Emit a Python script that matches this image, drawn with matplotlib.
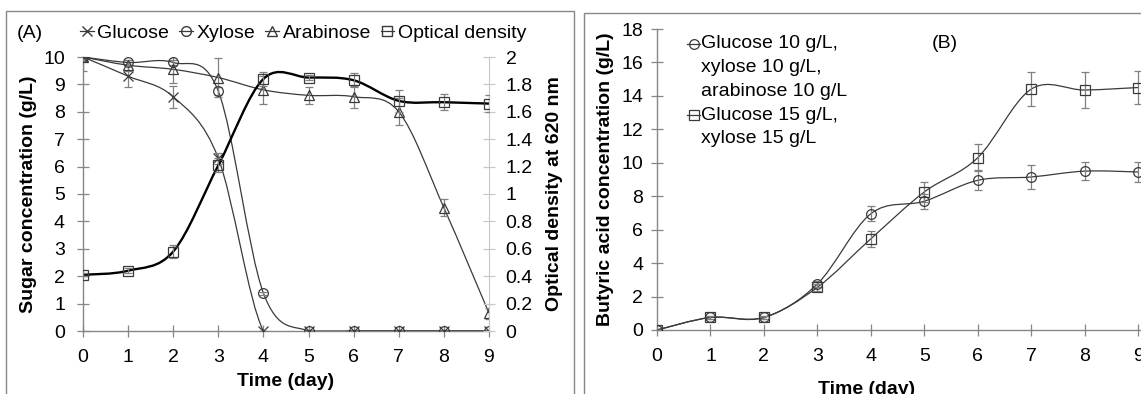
import numpy as np
import matplotlib
matplotlib.use("Agg")
import matplotlib.pyplot as plt
from matplotlib.path import Path
from matplotlib.patches import PathPatch, Rectangle
from matplotlib.lines import Line2D

plt.rcParams['font.family'] = ['Liberation Sans', 'DejaVu Sans']
plt.rcParams['font.size'] = 14

# ---- data ----
days = np.arange(10)

# panel A: sugars (g/L) and optical density
glucose = [10, 9.3, 8.55, 6.3, 0, 0, 0, 0, 0, 0]
glucose_err = [0.5, 0.4, 0.4, 0.2, 0, 0, 0, 0, 0, 0]
xylose = [10, 9.8, 9.8, 8.75, 1.38, 0, 0, 0, 0, 0]
xylose_err = [0.1, 0.1, 0.1, 0.15, 0.05, 0, 0, 0, 0, 0]
arabinose = [10, 9.7, 9.55, 9.25, 8.8, 8.6, 8.55, 8.0, 4.5, 0.65]
arabinose_err = [0.1, 0.2, 0.5, 0.7, 0.5, 0.3, 0.4, 0.5, 0.3, 0.2]
od = [0.41, 0.44, 0.58, 1.21, 1.84, 1.85, 1.83, 1.68, 1.67, 1.66]
od_err = [0.01, 0.02, 0.05, 0.05, 0.05, 0.02, 0.05, 0.08, 0.06, 0.06]

# panel B: butyric acid (g/L)
but_mix3 = [0, 0.75, 0.75, 2.75, 6.95, 7.7, 8.95, 9.15, 9.5, 9.45]
but_mix3_err = [0, 0.1, 0.1, 0.2, 0.45, 0.45, 0.6, 0.7, 0.55, 0.6]
but_mix2 = [0, 0.75, 0.75, 2.55, 5.45, 8.25, 10.3, 14.4, 14.35, 14.5]
but_mix2_err = [0, 0.1, 0.1, 0.2, 0.5, 0.6, 0.8, 1.0, 1.05, 1.0]

W, H = 1141, 394
LINE = '#3a3a3a'
ERR = '#808080'
AXC = '#868686'


def smooth(ax, x, y, **kw):
    # Excel-like smoothed line (Catmull-Rom as cubic Bezier)
    pts = np.column_stack([x, y]).astype(float)
    p = np.vstack([pts[0], pts, pts[-1]])
    verts = [pts[0]]
    codes = [Path.MOVETO]
    for i in range(len(pts) - 1):
        p0, p1, p2, p3 = p[i], p[i + 1], p[i + 2], p[i + 3]
        verts += [p1 + (p2 - p0) / 6, p2 - (p3 - p1) / 6, p2]
        codes += [Path.CURVE4] * 3
    ax.add_patch(PathPatch(Path(verts, codes), fill=False, **kw))


def series(ax, y, err, marker, lw=0.9, color=LINE, ms=7):
    smooth(ax, days, y, ec=color, lw=lw, zorder=3)
    ax.errorbar(days, y, yerr=err, fmt='none', ecolor=ERR, elinewidth=0.9,
                capsize=3, capthick=0.9, zorder=4)
    ax.plot(days, y, ls='none', marker=marker, ms=ms, mfc='none',
            mec=LINE, mew=0.9, zorder=5)


def style(ax):
    for s in ['top', 'right']:
        ax.spines[s].set_visible(False)
    for s in ['left', 'bottom']:
        ax.spines[s].set_color(AXC)
        ax.spines[s].set_linewidth(1.0)
    ax.tick_params(direction='inout', length=8, width=0.9, color=AXC)
    ax.tick_params(axis='x', pad=9)
    ax.tick_params(axis='y', pad=9)


fig = plt.figure(figsize=(W / 100, H / 100), dpi=100)

# panel frames
fig.add_artist(Rectangle((6 / W, -0.1), (574 - 6) / W, 1 - 11 / H + 0.1,
                         transform=fig.transFigure, fill=False, ec=AXC, lw=1.0))
fig.add_artist(Rectangle((584 / W, -0.1), 0.6, 1 - 13 / H + 0.1,
                         transform=fig.transFigure, fill=False, ec=AXC, lw=1.0))

# ---- panel A ----
axA = fig.add_axes([83 / W, 1 - 331 / H, (489 - 83) / W, (331 - 57) / H])
axA.set_xlim(0, 9)
axA.set_ylim(0, 10)
axA.set_xticks(days)
axA.set_yticks(range(0, 11))
style(axA)
axA.set_ylabel('Sugar concentration (g/L)', fontweight='bold')
axA.yaxis.set_label_coords(-0.113, 0.5)
axA.set_xlabel('Time (day)', fontweight='bold')
axA.xaxis.set_label_coords(0.5, -0.155)

axA2 = axA.twinx()
axA2.set_ylim(0, 2)
axA2.set_yticks(np.arange(0, 2.01, 0.2))
axA2.set_yticklabels(['0', '0.2', '0.4', '0.6', '0.8', '1', '1.2', '1.4',
                      '1.6', '1.8', '2'])
for s in ['top', 'left', 'bottom']:
    axA2.spines[s].set_visible(False)
axA2.spines['right'].set_color('#c8c8c8')
axA2.tick_params(direction='inout', length=8, width=0.9, color='#c8c8c8', pad=8)
axA2.set_ylabel('Optical density at 620 nm', fontweight='bold')
axA2.yaxis.set_label_coords(1.14, 0.5)

series(axA, glucose, glucose_err, 'x')
series(axA, xylose, xylose_err, 'o')
series(axA, arabinose, arabinose_err, '^')
series(axA2, od, od_err, 's', lw=1.7, color='black')

handles = [Line2D([], [], color=LINE, lw=0.9, marker=m, ms=7, mfc='none', mec=LINE)
           for m in ['x', 'o', '^', 's']]
fig.legend(handles, ['Glucose', 'Xylose', 'Arabinose', 'Optical density'],
           ncol=4, loc='center left', bbox_to_anchor=(80 / W, 1 - 33 / H),
           frameon=False, handlelength=0.7, handletextpad=0.2,
           columnspacing=0.5, borderpad=0, borderaxespad=0)
fig.text(17 / W, 1 - 33 / H, '(A)', va='center', ha='left')

# ---- panel B ----
axB = fig.add_axes([657 / W, 1 - 330 / H, (1141 - 657) / W, (330 - 29) / H])
axB.set_xlim(0, 9 * (1141 - 657) / (1138 - 657))
axB.set_ylim(0, 18)
axB.set_xticks(days)
axB.set_yticks(range(0, 19, 2))
style(axB)
axB.tick_params(axis='y', pad=6)
axB.set_ylabel('Butyric acid concentration (g/L)', fontweight='bold')
axB.yaxis.set_label_coords(-0.088, 0.5)
axB.set_xlabel('Time (day)', fontweight='bold')
axB.xaxis.set_label_coords((867 - 657) / (1141 - 657), -0.168)

series(axB, but_mix3, but_mix3_err, 'o')
series(axB, but_mix2, but_mix2_err, 's')

# legend B drawn by hand so markers sit on the first line of each label
leg_lines = ['Glucose 10 g/L,', 'xylose 10 g/L,', 'arabinose 10 g/L',
             'Glucose 15 g/L,', 'xylose 15 g/L']
leg_markers = {0: 'o', 3: 's'}
for k, txt in enumerate(leg_lines):
    yf = 1 - (44 + 23.7 * k) / H
    fig.text(701 / W, yf, txt, va='center', ha='left')
    if k in leg_markers:
        fig.add_artist(Line2D([687 / W, 700 / W], [yf, yf], color=LINE, lw=0.9,
                              transform=fig.transFigure))
        fig.add_artist(Line2D([693.5 / W], [yf], marker=leg_markers[k], ms=7,
                              mfc='none', mec=LINE, mew=0.9,
                              transform=fig.transFigure))
fig.text(945 / W, 1 - 44 / H, '(B)', va='center', ha='center')

fig.savefig('out.png', dpi=100)
